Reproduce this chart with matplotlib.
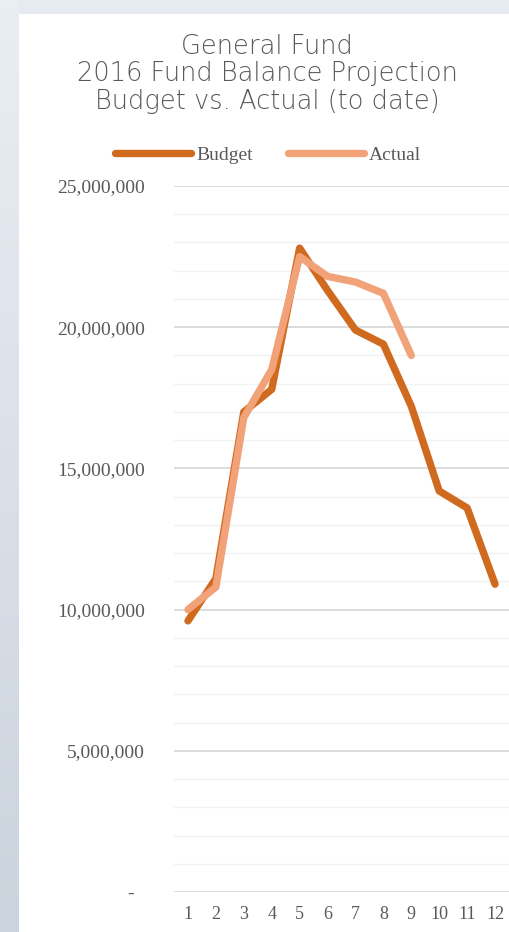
import numpy as np
import matplotlib.pyplot as plt
import matplotlib.patches as patches
from matplotlib.colors import LinearSegmentedColormap
from matplotlib.ticker import FuncFormatter, MultipleLocator

months = [1, 2, 3, 4, 5, 6, 7, 8, 9, 10, 11, 12]
budget = [9.6e6, 11.1e6, 17.0e6, 17.8e6, 22.8e6, 21.3e6, 19.9e6, 19.4e6, 17.2e6, 14.2e6, 13.6e6, 10.9e6]
actual_months = [1, 2, 3, 4, 5, 6, 7, 8, 9]
actual = [10.0e6, 10.8e6, 16.8e6, 18.5e6, 22.5e6, 21.8e6, 21.6e6, 21.2e6, 19.0e6]

title_lines = ["General Fund", "2016 Fund Balance Projection", "Budget vs. Actual (to date)"]

budget_color = '#cf6a1f'
actual_color = '#f2a278'
text_color = '#595959'

W, H = 509, 932
fig = plt.figure(figsize=(W / 100, H / 100), dpi=100)
fig.patch.set_facecolor('#e6ebf2')

# left frame strip, darker towards the bottom
strip = fig.add_axes([0, 0, 19 / W, 1])
strip.set_zorder(-10)
strip.axis('off')
cmap = LinearSegmentedColormap.from_list('frame', ['#e9eef4', '#cbd3dc'])
strip.imshow(np.linspace(0, 1, 100).reshape(-1, 1), aspect='auto', cmap=cmap,
             extent=(0, 1, 1, 0))

# white card behind the chart
fig.patches.append(patches.Rectangle((19 / W, 0), 1, (H - 14) / H, transform=fig.transFigure,
                                     facecolor='white', edgecolor='none', zorder=-5))

ax = fig.add_axes([174 / W, 40 / H, (W - 174) / W, 706 / H])
ax.set_zorder(2)
ax.set_facecolor('none')
ax.plot(months, budget, color=budget_color, lw=5.3, solid_joinstyle='round', solid_capstyle='round', label='Budget', zorder=3)
ax.plot(actual_months, actual, color=actual_color, lw=5.3, solid_joinstyle='round', solid_capstyle='round', label='Actual', zorder=4)

ax.set_xlim(0.5, 12.5)
ax.set_ylim(0, 25e6)
ax.yaxis.set_major_locator(MultipleLocator(5e6))
ax.yaxis.set_minor_locator(MultipleLocator(1e6))
ax.set_xticks(months)
ax.yaxis.set_major_formatter(FuncFormatter(lambda v, p: '-  ' if v == 0 else f'{v:,.0f}'))
ax.grid(axis='y', which='major', color='#d6d6d6', lw=1.2)
ax.grid(axis='y', which='minor', color='#f2f2f2', lw=1)
for s in ax.spines.values():
    s.set_visible(False)
ax.tick_params(length=0, which='both')
ax.tick_params(axis='y', pad=21, labelsize=14, labelcolor=text_color)
ax.tick_params(axis='x', pad=10, labelsize=13, labelcolor=text_color)
for lab in ax.get_xticklabels() + ax.get_yticklabels():
    lab.set_family('Liberation Serif')

for i, t in enumerate(title_lines):
    fig.text(267 / W, 1 - (47 + 27 * i) / H, t, ha='center', va='center',
             fontsize=18.5, color=text_color, family='DejaVu Sans', fontweight='light')

leg = fig.legend(loc='center', bbox_to_anchor=(268 / W, 1 - 155 / H), ncol=2, frameon=False,
                 handlelength=3.9, columnspacing=1.8, handletextpad=0.25,
                 prop={'family': 'Liberation Serif', 'size': 14})
for t in leg.get_texts():
    t.set_color(text_color)

fig.savefig('out.png', dpi=100)
